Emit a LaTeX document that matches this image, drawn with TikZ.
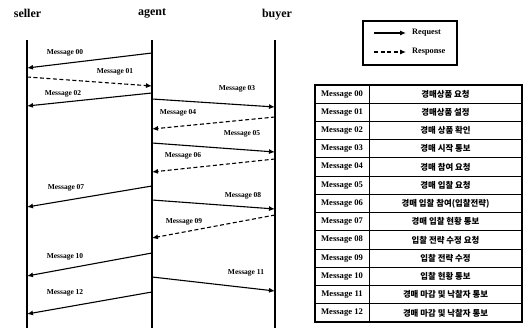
\documentclass[tikz,border=0pt]{standalone}
\usepackage{fontspec}
\setmainfont{Liberation Serif}
\newfontfamily\krfont{Noto Sans CJK KR}
\usetikzlibrary{arrows.meta}

\tikzset{
  actor/.style={font=\fontsize{12}{12}\selectfont\bfseries, inner sep=0pt},
  lifeline/.style={line width=1.2pt},
  req/.style={line width=1.1pt, -{Latex[length=6pt,width=5pt]}},
  resp/.style={line width=1.1pt, dash pattern=on 4pt off 2.5pt, -{Latex[length=6pt,width=5pt]}},
  msglabel/.style={font=\fontsize{7.5}{8}\selectfont\bfseries, inner sep=0pt},
  legendtext/.style={font=\fontsize{8.3}{9}\selectfont\bfseries, inner sep=0pt, anchor=west},
  cellname/.style={font=\fontsize{8.6}{9}\selectfont\bfseries, inner sep=0pt},
  celltext/.style={font=\krfont\bfseries\fontsize{8.4}{9}\selectfont, inner sep=0pt},
  tableline/.style={line width=0.9pt},
  tableframe/.style={line width=1.3pt}
}

\begin{document}
\begin{tikzpicture}[x=1pt, y=-1pt]
\useasboundingbox (0,0) rectangle (529,328);

% actors and their lifelines
\node[actor] (seller) at (27.5,13) {seller};
\node[actor] (agent)  at (152,13) {agent};
\node[actor] (buyer)  at (277,15) {buyer};
\coordinate (sellerTop) at (27,40);  \coordinate (sellerBot) at (27,328);
\coordinate (agentTop)  at (152,40); \coordinate (agentBot)  at (152,328);
\coordinate (buyerTop)  at (275,40); \coordinate (buyerBot)  at (275,328);
\draw[lifeline] (sellerTop) -- (sellerBot);
\draw[lifeline] (agentTop) -- (agentBot);
\draw[lifeline] (buyerTop) -- (buyerBot);

% messages: id / start x / start y / end x / end y / style / label x / label y
\foreach \id/\xa/\ya/\xb/\yb/\st/\lx/\ly in {
  00/152/53/27/68/req/65/53,
  01/27/77/152/86/resp/115/72,
  02/152/93/27/106/req/63/94,
  03/152/99/275/107/req/237/89,
  04/275/117/152/129/resp/178/113,
  05/152/143/275/152/req/242/134,
  06/275/159/152/172/resp/183/156,
  07/152/186/27/207/req/66/188,
  08/152/200/275/209/req/243/196,
  09/275/215/152/238/resp/184/222,
  10/152/253/27/276/req/65/257,
  11/152/277/275/291/req/246/273,
  12/152/292/27/314/req/65/293}{
  \coordinate (m\id from) at (\xa,\ya);
  \coordinate (m\id to) at (\xb,\yb);
  \draw[\st] (m\id from) -- (m\id to);
  \node[msglabel] (lab\id) at (\lx,\ly) {Message \id};
}

% legend
\draw[tableframe] (363,21) rectangle (457,65);
\coordinate (reqA) at (374,33); \coordinate (reqB) at (406,33);
\coordinate (respA) at (374,52); \coordinate (respB) at (406,52);
\draw[req] (reqA) -- (reqB);
\draw[resp] (respA) -- (respB);
\node[legendtext] (reqtext) at (412,33) {Request};
\node[legendtext] (resptext) at (412,52) {Response};

% message table
\def\rowh{18.23}
\foreach \i/\txt [count=\k from 0] in {
  00/경매상품 요청,
  01/경매상품 설정,
  02/경매 상품 확인,
  03/경매 시작 통보,
  04/경매 참여 요청,
  05/경매 입찰 요청,
  06/경매 입찰 참여(입찰전략),
  07/경매 입찰 현황 통보,
  08/입찰 전략 수정 요청,
  09/입찰 전략 수정,
  10/입찰 현황 통보,
  11/경매 마감 및 낙찰자 통보,
  12/경매 마감 및 낙찰자 통보}{
  \pgfmathsetmacro{\ytop}{85+\k*\rowh}
  \pgfmathsetmacro{\ymid}{\ytop+\rowh/2}
  \draw[tableline] (315,\ytop) -- (522,\ytop);
  \node[cellname] (name\i) at (342,\ymid) {Message \i};
  \node[celltext] (desc\i) at (445.5,\ymid) {\txt};
}
\draw[tableline] (369,85) -- (369,322);
\draw[tableframe] (315,85) rectangle (522,322);
\end{tikzpicture}
\end{document}
